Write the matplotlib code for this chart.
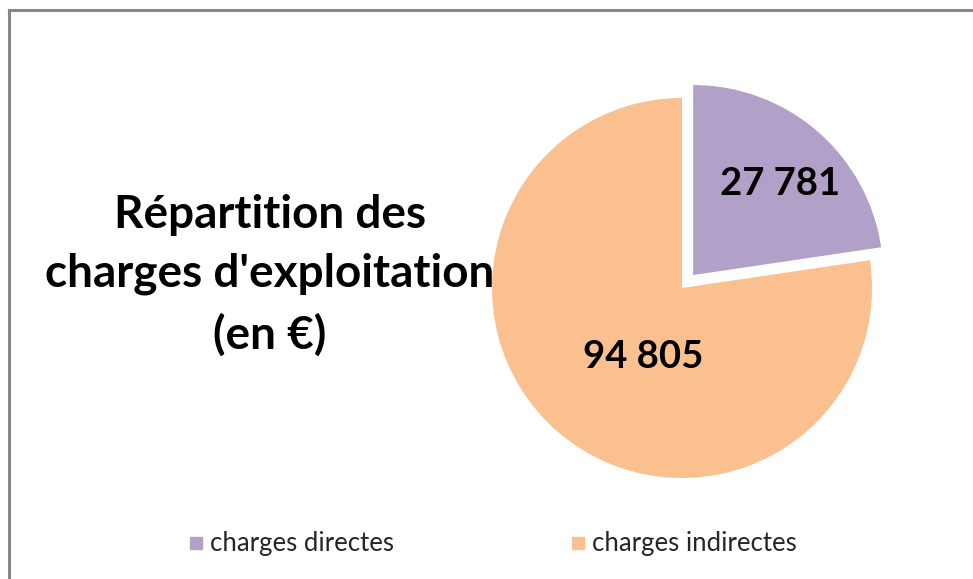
import matplotlib
matplotlib.use("Agg")
import numpy as np
import matplotlib.pyplot as plt
from matplotlib.lines import Line2D

plt.rcParams['font.family'] = ['Lato', 'DejaVu Sans']

categories = ["charges directes", "charges indirectes"]
values = [27781, 94805]
value_labels = ["27 781", "94 805"]
colors = ["#B1A0C7", "#FAC090"]
title_text = "Répartition des\ncharges d'exploitation\n(en €)"

W, H = 973, 579
fig = plt.figure(figsize=(W / 100, H / 100), dpi=100)

# pie axes: center (682, 288) px, radius 190 px, limits +-1.25
cx, cy, r = 682, 288, 190
half = 1.25 * r
ax = fig.add_axes([(cx - half) / W, (H - cy - half) / H, 2 * half / W, 2 * half / H])
wedges, texts, autotexts = ax.pie(
    values, colors=colors, startangle=90, counterclock=False,
    explode=[0.09, 0], autopct=lambda p: "", pctdistance=0.67,
    wedgeprops=dict(linewidth=0))
ax.set_xlim(-1.25, 1.25)
ax.set_ylim(-1.25, 1.25)
ax.set_aspect('equal')
ax.axis('off')

# value labels
for t, lab in zip(autotexts, value_labels):
    t.set_text(lab)
    t.set_fontsize(27.5)
    t.set_fontweight('bold')
    t.set_color('black')
x, y = autotexts[0].get_position()
autotexts[0].set_position((x + 0.02, y - 0.03))
ang = np.deg2rad(240.5)
autotexts[1].set_position((0.42 * np.cos(ang), 0.42 * np.sin(ang)))

# title
fig.text(270 / W, 1 - 275 / H, title_text, ha='center', va='center',
         fontsize=33, fontweight='bold', color='black', linespacing=1.5)

# legend
handles = [Line2D([0], [0], marker='s', linestyle='', markersize=9,
                  markerfacecolor=c, markeredgecolor=c) for c in colors]
fig.legend(handles, categories, loc='center', bbox_to_anchor=(493 / W, 1 - 544 / H),
           ncol=2, frameon=False, fontsize=18.5, columnspacing=6.9,
           handletextpad=0.3, handlelength=0.5, labelcolor='#262626')

# border (top and left lines)
fig.add_artist(Line2D([9 / W, 9 / W], [0, 1 - 10 / H], color='#888888', lw=2.2,
                      transform=fig.transFigure))
fig.add_artist(Line2D([9 / W, 1], [1 - 10 / H, 1 - 10 / H], color='#888888', lw=2.2,
                      transform=fig.transFigure))

fig.savefig("out.png", dpi=100, facecolor='white')
